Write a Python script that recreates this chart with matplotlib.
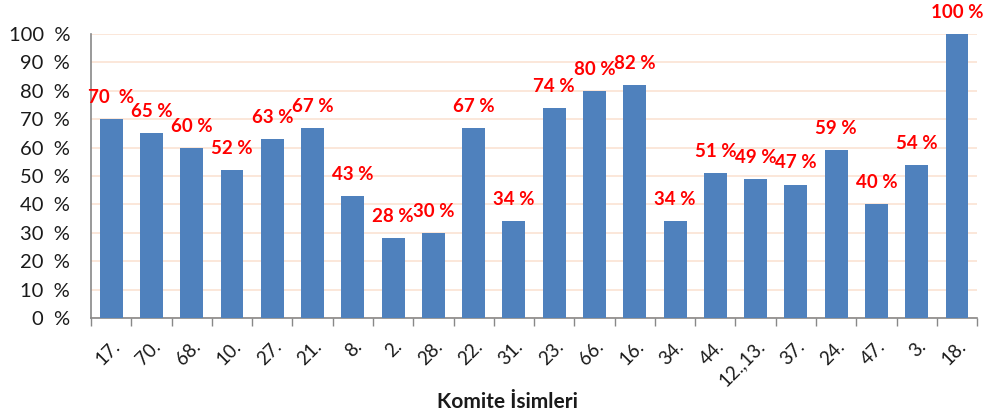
import matplotlib
matplotlib.use("Agg")
import matplotlib.pyplot as plt
import numpy as np

plt.rcParams['font.family'] = ['Lato', 'DejaVu Sans']

categories = ["17.", "70.", "68.", "10.", "27.", "21.", "8.", "2.", "28.", "22.", "31.",
              "23.", "66.", "16.", "34.", "44.", "12.,13.", "37.", "24.", "47.", "3.", "18."]
values = [70, 65, 60, 52, 63, 67, 43, 28, 30, 67, 34, 74, 80, 82, 34, 51, 49, 47, 59, 40, 54, 100]
value_labels = ["70  %", "65 %", "60 %", "52 %", "63 %", "67 %", "43 %", "28 %", "30 %", "67 %", "34 %",
                "74 %", "80 %", "82 %", "34 %", "51 %", "49 %", "47 %", "59 %", "40 %", "54 %", "100 %"]
yticks = list(range(0, 101, 10))
ytick_labels = [f"{t}  %" for t in yticks]
xlabel = "Komite İsimleri"

fig = plt.figure(figsize=(9.99, 4.17), dpi=100)
ax = fig.add_axes([0.0911, 0.2374, 0.887, 0.6811])

x = np.arange(len(categories))
ax.bar(x, values, width=0.57, color="#4F81BD", zorder=3)

ax.set_xlim(-0.5, len(categories) - 0.5)
ax.set_ylim(0, 100)
ax.set_yticks(yticks)
ax.set_yticklabels(ytick_labels, fontsize=14.5, color="#1a1a1a")
ax.yaxis.grid(True, color="#FBE3D3", linewidth=1.2, zorder=0)
ax.set_axisbelow(True)
ax.tick_params(axis='y', length=0, pad=15)

ax.set_xticks(np.arange(-0.5, len(categories) + 0.5, 1), minor=False)
ax.set_xticklabels([])
ax.tick_params(axis='x', which='major', length=6, color="#888888", width=1)
ax.set_xticks(x, minor=True)
ax.set_xticklabels(categories, minor=True, rotation=45, ha='right', va='top',
                   rotation_mode='anchor', fontsize=13.5, color="#1a1a1a")
ax.tick_params(axis='x', which='minor', length=0, pad=14)

for s in ['top', 'right']:
    ax.spines[s].set_visible(False)
ax.spines['left'].set_color("#888888")
ax.spines['bottom'].set_color("#888888")
ax.spines['left'].set_linewidth(1.2)
ax.spines['bottom'].set_linewidth(1.2)

for xi, v, lab in zip(x, values, value_labels):
    ax.text(xi, v + 7.6, lab, ha='center', va='center', color="#FF0000",
            fontsize=13.5, fontweight='bold', clip_on=False)

fig.text(0.508, 1 - 402 / 417, xlabel, ha='center', va='center', fontsize=15,
         fontweight='bold', color="#1a1a1a")

fig.savefig("out.png", dpi=100)
